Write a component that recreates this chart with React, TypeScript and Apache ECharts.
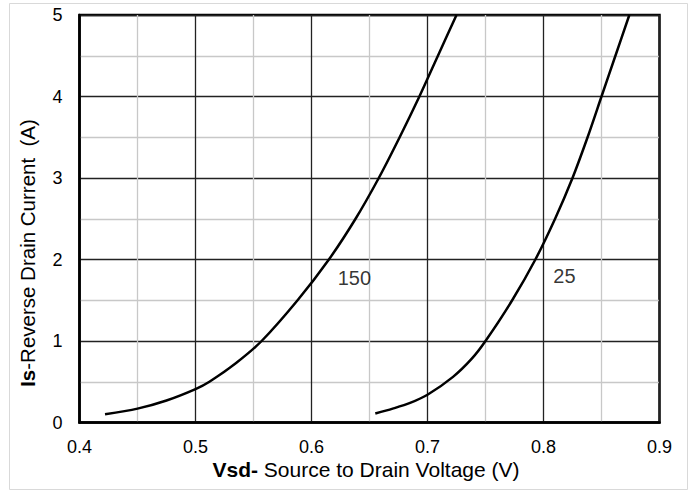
import React, { useEffect, useRef } from "react";
import * as echarts from "echarts";

const xTicks = [0.4, 0.5, 0.6, 0.7, 0.8, 0.9];
const yTicks = [0, 1, 2, 3, 4, 5];

const vsd150 = [0.422, 0.45, 0.475, 0.5, 0.512, 0.535, 0.557, 0.588, 0.615, 0.638, 0.658, 0.676, 0.693, 0.709, 0.725];
const is150 = [0.1, 0.17, 0.27, 0.41, 0.5, 0.73, 1.0, 1.5, 2.0, 2.5, 3.0, 3.5, 4.0, 4.5, 5.0];

const vsd25 = [0.655, 0.67, 0.685, 0.7, 0.722, 0.738, 0.75, 0.773, 0.793, 0.81, 0.825, 0.838, 0.85, 0.862, 0.874];
const is25 = [0.11, 0.17, 0.24, 0.34, 0.56, 0.78, 1.0, 1.5, 2.0, 2.5, 3.0, 3.5, 4.0, 4.5, 5.0];

const curveLabels = ["150", "25"];
const labelVsd = [0.637, 0.818];
const labelIs = [1.77, 1.8];

const FONT = "'Liberation Sans', Arial, sans-serif";

export default function App() {
  const ref = useRef<HTMLDivElement>(null);
  useEffect(() => {
    if (!ref.current) return;
    const chart = echarts.init(ref.current, undefined, { renderer: "svg" });
    const pairs = (xs: number[], ys: number[]) => xs.map((x, i) => [x, ys[i]]);
    const lineSeries = (name: string, data: number[][]) => ({
      name,
      type: "line",
      data,
      smooth: 0.3,
      showSymbol: false,
      lineStyle: { color: "#000", width: 2.5 },
      z: 5,
    });
    chart.setOption({
      animation: false,
      backgroundColor: "#fff",
      grid: {
        left: 79.5,
        top: 15,
        width: 580,
        height: 407.5,
        show: true,
        borderColor: "#000",
        borderWidth: 2.5,
        containLabel: false,
      },
      xAxis: {
        type: "value",
        min: xTicks[0],
        max: xTicks[xTicks.length - 1],
        interval: 0.1,
        axisLine: { show: true, lineStyle: { color: "#000", width: 2.5 } },
        axisTick: { show: false },
        axisLabel: {
          color: "#000",
          fontSize: 18,
          fontFamily: FONT,
          margin: 15,
          formatter: (v: number) => String(Math.round(v * 10) / 10),
        },
        splitLine: { show: true, lineStyle: { color: "#222", width: 1.3 } },
        minorTick: { show: false, splitNumber: 2 },
        minorSplitLine: { show: true, lineStyle: { color: "#c8c8c8", width: 1.3 } },
      },
      yAxis: {
        type: "value",
        min: yTicks[0],
        max: yTicks[yTicks.length - 1],
        interval: 1,
        axisLine: { show: true, lineStyle: { color: "#000", width: 2.5 } },
        axisTick: { show: false },
        axisLabel: { color: "#000", fontSize: 18, fontFamily: FONT, margin: 17 },
        splitLine: { show: true, lineStyle: { color: "#222", width: 1.3 } },
        minorTick: { show: false, splitNumber: 2 },
        minorSplitLine: { show: true, lineStyle: { color: "#c8c8c8", width: 1.3 } },
      },
      series: [
        lineSeries("150", pairs(vsd150, is150)),
        lineSeries("25", pairs(vsd25, is25)),
        {
          type: "scatter",
          data: curveLabels.map((t, i) => ({ value: [labelVsd[i], labelIs[i]], name: t })),
          symbolSize: 0,
          silent: true,
          label: {
            show: true,
            position: "inside",
            formatter: (p: any) => p.name,
            color: "#000",
            fontSize: 20,
            fontFamily: FONT,
          },
          z: 6,
        },
      ],
      graphic: [
        {
          type: "rect",
          shape: { x: 9.5, y: 3.5, width: 678, height: 486 },
          style: { fill: "none", stroke: "#d9d9d9", lineWidth: 1 },
          silent: true,
          z: -1,
        },
        {
          type: "text",
          x: 366,
          y: 469,
          style: {
            text: "{b|Vsd-} Source to Drain Voltage (V)",
            align: "center",
            verticalAlign: "middle",
            fontSize: 21,
            fontFamily: FONT,
            fill: "#000",
            rich: { b: { fontWeight: "bold", fontSize: 21, fontFamily: FONT, fill: "#000" } },
          },
        },
        {
          type: "text",
          x: 27,
          y: 253,
          rotation: Math.PI / 2,
          style: {
            text: "{b|Is}-Reverse Drain Current  (A)",
            align: "center",
            verticalAlign: "middle",
            fontSize: 20.5,
            fontFamily: FONT,
            fill: "#000",
            rich: { b: { fontWeight: "bold", fontSize: 20.5, fontFamily: FONT, fill: "#000" } },
          },
        },
      ],
    });
    return () => chart.dispose();
  }, []);
  return (
    <div
      ref={ref}
      style={{ position: "fixed", left: 0, top: 0, width: 692, height: 492, background: "#fff" }}
    />
  );
}
